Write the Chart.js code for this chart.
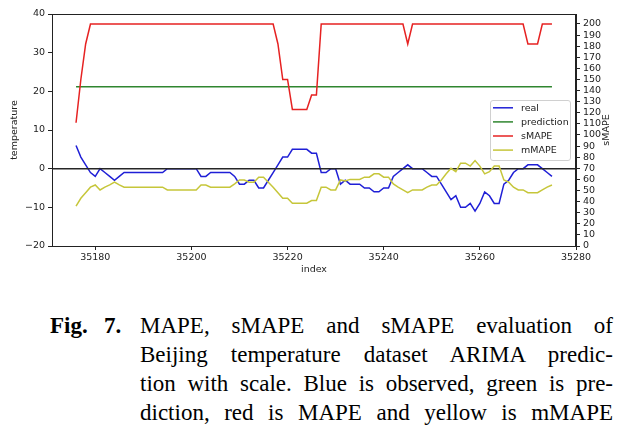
<!DOCTYPE html>
<html>
<head>
<meta charset="utf-8">
<script src="https://cdn.jsdelivr.net/npm/chart.js@4.4.1/dist/chart.umd.min.js"></script>
<style>
html,body{margin:0;padding:0;background:#fff;width:634px;height:439px;overflow:hidden;}
#wrap{position:relative;width:634px;height:439px;}
canvas{position:absolute;left:0;top:0;}
.figlab{position:absolute;top:311px;font-family:"Liberation Serif",serif;font-weight:bold;font-size:23px;line-height:29px;color:#000;white-space:nowrap;}
#cap{position:absolute;left:140px;top:311px;width:473px;font-family:"Liberation Serif",serif;font-size:23px;line-height:29px;color:#000;}
#cap div{text-align:justify;text-align-last:justify;}
</style>
</head>
<body>
<div id="wrap">
<canvas id="c" width="634" height="290"></canvas>
<span class="figlab" style="left:50px">Fig.</span>
<span class="figlab" style="left:104px">7.</span>
<div id="cap">
<div>MAPE, sMAPE and sMAPE evaluation of</div>
<div>Beijing temperature dataset ARIMA predic-</div>
<div>tion with scale. Blue is observed, green is pre-</div>
<div>diction, red is MAPE and yellow is mMAPE</div>
</div>
</div>
<script>
// ---- data ----
const firstIndex = 35176;
const pointCount = 100;
const indexValues = Array.from({length: pointCount}, (_, i) => firstIndex + i);

const real = [
  6, 3, 1, -1, -2, 0, -1, -2, -3, -2,
  -1, -1, -1, -1, -1, -1, -1, -1, -1, 0,
  0, 0, 0, 0, 0, 0, -2, -2, -1, -1,
  -1, -1, -1, -2, -4, -4, -3, -3, -5, -5,
  -3, -1, 1, 3, 3, 5, 5, 5, 5, 4,
  4, -1, -1, 0, 0, -4, -3, -4, -4, -4,
  -5, -5, -6, -6, -5, -5, -2, -1, 0, 1,
  0, 0, 0, -1, -2, -2, -4, -6, -8, -7,
  -10, -10, -9, -11, -9, -6, -7, -9, -9, -4,
  -3, -1, 0, 0, 1, 1, 1, 0, -1, -2
];

const predictionValue = 21.2;

const sMAPE = [
  111, 150, 182, 200, 200, 200, 200, 200, 200, 200,
  200, 200, 200, 200, 200, 200, 200, 200, 200, 200,
  200, 200, 200, 200, 200, 200, 200, 200, 200, 200,
  200, 200, 200, 200, 200, 200, 200, 200, 200, 200,
  200, 200, 182, 150, 150, 123, 123, 123, 123, 136,
  136, 200, 200, 200, 200, 200, 200, 200, 200, 200,
  200, 200, 200, 200, 200, 200, 200, 200, 200, 182,
  200, 200, 200, 200, 200, 200, 200, 200, 200, 200,
  200, 200, 200, 200, 200, 200, 200, 200, 200, 200,
  200, 200, 200, 200, 182, 182, 182, 200, 200, 200
];

const mMAPE = [
  36, 43, 48, 53, 55, 50.5, 53, 55, 57.5, 55,
  53, 53, 53, 53, 53, 53, 53, 53, 53, 50.5,
  50.5, 50.5, 50.5, 50.5, 50.5, 50.5, 55, 55, 53, 53,
  53, 53, 53, 56, 59.5, 59.5, 57.5, 57.5, 62, 62,
  57.5, 53, 48, 43, 43, 38.5, 38.5, 38.5, 38.5, 41,
  41, 53, 53, 50.5, 50.5, 59.5, 58.5, 60, 60, 60,
  62, 62, 65, 65, 62, 62, 56, 53, 50.5, 48,
  50.5, 50.5, 50.5, 53, 55, 55, 59.5, 65, 70, 67,
  74.6, 74.6, 72, 77, 72, 65, 67, 72, 72, 59.5,
  57.5, 53, 50.5, 50.5, 48, 48, 48, 50.5, 53, 55
];

const zeroLineValue = 0;
const xMin = 35171, xMax = 35280;
const xTicksStep = 20;
const leftMin = -20, leftMax = 40, leftStep = 10;
const rightMin = 0, rightMax = 209, rightStep = 10;

const labels = { real: 'real', prediction: 'prediction', sMAPE: 'sMAPE', mMAPE: 'mMAPE' };

// ---- styles ----
const COLORS = { real: '#1f1fd6', prediction: '#2f862f', sMAPE: '#e62222', mMAPE: '#c6c63a', zero: '#262626' };
const FONT = 'DejaVu Sans';
const TXT = '#222';

const pts = arr => indexValues.map((x, i) => ({ x, y: arr[i] }));

Chart.defaults.font.family = FONT;
Chart.defaults.font.size = 9.5;
Chart.defaults.color = TXT;

const decor = {
  id: 'decor',
  afterDraw(chart) {
    const { ctx, chartArea: a } = chart;
    ctx.save();
    ctx.strokeStyle = '#222';
    ctx.lineWidth = 1;
    ctx.strokeRect(Math.round(a.left) + 0.5, Math.round(a.top) + 0.5, Math.round(a.right - a.left) - 1, Math.round(a.bottom - a.top));
    ctx.fillStyle = TXT;
    ctx.font = '9.5px "' + FONT + '"';
    ctx.textAlign = 'center';
    ctx.textBaseline = 'middle';
    ctx.translate(607, (a.top + a.bottom) / 2);
    ctx.rotate(-Math.PI / 2);
    ctx.fillText('sMAPE', 0, 0);
    ctx.restore();

    ctx.save();
    const bx = 490.5, by = 100.5, bw = 80, bh = 60, r = 2.5;
    ctx.beginPath();
    ctx.moveTo(bx + r, by);
    ctx.arcTo(bx + bw, by, bx + bw, by + bh, r);
    ctx.arcTo(bx + bw, by + bh, bx, by + bh, r);
    ctx.arcTo(bx, by + bh, bx, by, r);
    ctx.arcTo(bx, by, bx + bw, by, r);
    ctx.closePath();
    ctx.fillStyle = 'rgba(255,255,255,0.8)';
    ctx.fill();
    ctx.strokeStyle = '#d0d0d0';
    ctx.lineWidth = 1;
    ctx.stroke();
    const items = chart.data.datasets.filter(d => d.showInLegend).sort((p, q) => p.legendOrder - q.legendOrder);
    ctx.font = '9.5px "' + FONT + '"';
    ctx.textAlign = 'left';
    ctx.textBaseline = 'middle';
    items.forEach((d, k) => {
      const y = 107.8 + k * 14.1;
      ctx.strokeStyle = d.borderColor;
      ctx.lineWidth = 1.5;
      ctx.beginPath();
      ctx.moveTo(493, y);
      ctx.lineTo(513, y);
      ctx.stroke();
      ctx.fillStyle = TXT;
      ctx.fillText(d.label, 521, y + 0.5);
    });
    ctx.restore();
  }
};

const lineDs = (label, data, color, axis, order, legendOrder) => ({
  label, data, borderColor: color, backgroundColor: color, yAxisID: axis,
  borderWidth: 1.5, pointRadius: 0, tension: 0, fill: false, order,
  showInLegend: legendOrder !== undefined, legendOrder
});

new Chart(document.getElementById('c'), {
  type: 'line',
  data: {
    datasets: [
      lineDs(labels.real, pts(real), COLORS.real, 'y', 5, 0),
      lineDs(labels.prediction, indexValues.map(x => ({ x, y: predictionValue })), COLORS.prediction, 'y', 4, 1),
      lineDs('', [{ x: xMin, y: zeroLineValue }, { x: xMax, y: zeroLineValue }], COLORS.zero, 'y', 3),
      lineDs(labels.sMAPE, pts(sMAPE), COLORS.sMAPE, 'y1', 2, 2),
      lineDs(labels.mMAPE, pts(mMAPE), COLORS.mMAPE, 'y1', 1, 3)
    ]
  },
  options: {
    responsive: false,
    animation: false,
    devicePixelRatio: 1,
    layout: { padding: { top: 14, bottom: 11, left: 0, right: 0 } },
    plugins: { legend: { display: false }, tooltip: { enabled: false } },
    scales: {
      x: {
        type: 'linear', min: xMin, max: xMax,
        grid: { display: true, drawOnChartArea: false, drawTicks: true, tickLength: 4, color: '#222' },
        border: { display: true, color: '#222' },
        ticks: { stepSize: xTicksStep, includeBounds: false, maxRotation: 0, padding: 2, color: TXT,
                 callback: v => String(v) },
        title: { display: true, text: 'index', color: TXT, padding: { top: 0, bottom: 4 } },
        afterFit: s => { s.height = 33; }
      },
      y: {
        position: 'left', min: leftMin, max: leftMax,
        grid: { display: true, drawOnChartArea: false, drawTicks: true, tickLength: 4, color: '#222' },
        border: { display: true, color: '#222' },
        ticks: { stepSize: leftStep, padding: 3, color: TXT, callback: v => String(v).replace('-', '\u2212') },
        title: { display: true, text: 'temperature', color: TXT, padding: { top: 9, bottom: 0 } },
        afterFit: s => { s.width = 52; }
      },
      y1: {
        position: 'right', min: rightMin, max: rightMax,
        grid: { display: true, drawOnChartArea: false, drawTicks: true, tickLength: 4, color: '#222' },
        border: { display: true, color: '#222' },
        ticks: { stepSize: rightStep, includeBounds: false, padding: 3, color: TXT, autoSkip: false },
        afterFit: s => { s.width = 58; }
      }
    }
  },
  plugins: [decor]
});
</script>
</body>
</html>
